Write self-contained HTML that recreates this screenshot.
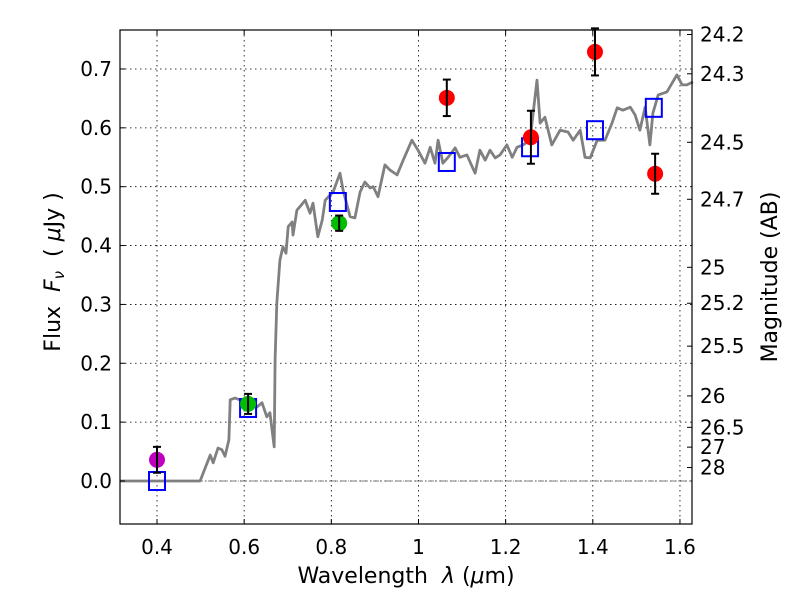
<!DOCTYPE html>
<html><head><meta charset="utf-8">
<style>
body{margin:0;background:#fff;}
svg{display:block;font-family:"DejaVu Sans","Liberation Sans",sans-serif;}
.pre{white-space:pre;}
</style></head>
<body>
<svg id="chart" width="800" height="600" viewBox="0 0 800 600" xmlns="http://www.w3.org/2000/svg">
<rect width="800" height="600" fill="#fff"/>
<g id="grid"></g>
<g id="series"></g>
<rect x="120" y="30" width="572" height="494" fill="none" stroke="#000" stroke-width="1.2"/>
<g id="axes"></g>
<text class="pre" x="406" y="583" font-size="22" text-anchor="middle">Wavelength  <tspan font-style="italic">λ</tspan> (<tspan font-style="italic">μ</tspan>m)</text>
<text class="pre" transform="translate(60,272) rotate(-90)" font-size="22" text-anchor="middle">Flux  <tspan font-style="italic">F<tspan font-size="15" dy="4">ν</tspan></tspan><tspan dy="-4">  ( </tspan><tspan font-style="italic">μ</tspan>Jy )</text>
<text class="pre" transform="translate(777,277) rotate(-90)" font-size="22" text-anchor="middle">Magnitude (AB)</text>
</svg>
<script>
const xTicks=[0.4,0.6,0.8,1.0,1.2,1.4,1.6];
const xTickLabels=["0.4","0.6","0.8","1","1.2","1.4","1.6"];
const yTicks=[0,0.1,0.2,0.3,0.4,0.5,0.6,0.7];
const yTickLabels=["0.0","0.1","0.2","0.3","0.4","0.5","0.6","0.7"];
const magTicks=[24.2,24.3,24.5,24.7,25,25.2,25.5,26,26.5,27,28];
const magTickLabels=["24.2","24.3","24.5","24.7","25","25.2","25.5","26","26.5","27","28"];
const specWave=[0.315,0.499,0.522,0.529,0.540,0.549,0.556,0.565,0.568,0.579,0.607,0.630,0.641,0.652,0.659,0.669,0.671,0.675,0.682,0.689,0.696,0.701,0.710,0.712,0.721,0.728,0.740,0.751,0.758,0.769,0.779,0.786,0.804,0.820,0.827,0.843,0.854,0.866,0.877,0.889,0.896,0.907,0.923,0.935,0.951,0.965,0.985,0.999,1.015,1.027,1.038,1.045,1.056,1.068,1.084,1.095,1.111,1.130,1.141,1.153,1.164,1.176,1.187,1.203,1.215,1.226,1.240,1.256,1.272,1.279,1.290,1.306,1.325,1.343,1.355,1.371,1.382,1.394,1.410,1.428,1.444,1.456,1.469,1.486,1.497,1.508,1.520,1.531,1.538,1.550,1.570,1.593,1.605,1.616,1.630];
const specFlux=[0,0,0.044,0.031,0.056,0.053,0.042,0.070,0.138,0.141,0.133,0.126,0.133,0.109,0.116,0.058,0.206,0.302,0.375,0.398,0.387,0.432,0.440,0.418,0.460,0.466,0.477,0.455,0.472,0.415,0.443,0.477,0.491,0.523,0.494,0.449,0.447,0.491,0.508,0.498,0.500,0.483,0.537,0.528,0.520,0.545,0.579,0.562,0.540,0.567,0.540,0.579,0.540,0.550,0.566,0.550,0.554,0.523,0.562,0.545,0.562,0.549,0.554,0.571,0.550,0.567,0.571,0.579,0.681,0.608,0.618,0.571,0.596,0.593,0.579,0.596,0.550,0.549,0.579,0.579,0.608,0.634,0.630,0.635,0.622,0.596,0.635,0.571,0.625,0.656,0.661,0.690,0.673,0.673,0.678];
const modelWave=[0.4,0.609,0.815,1.065,1.256,1.405,1.540];
const modelFlux=[0,0.124,0.474,0.542,0.567,0.596,0.634];
const obsWave=[0.4,0.609,0.818,1.065,1.258,1.405,1.543];
const obsFlux=[0.036,0.131,0.438,0.651,0.584,0.729,0.522];
const obsErr=[0.022,0.017,0.013,0.031,0.045,0.04,0.034];
const obsColor=["#bf00bf","#00bf00","#00bf00","#ff0000","#ff0000","#ff0000","#ff0000"];

const L=120,R=692,T=30,B=524;
const X=v=>157+(v-0.4)*435.8;
const Y=v=>481-v*588.6;
const magToFlux=m=>Math.pow(10,-0.4*(m-23.9));
const NS="http://www.w3.org/2000/svg";
function mk(p,tag,a){const e=document.createElementNS(NS,tag);for(const k in a)e.setAttribute(k,a[k]);p.appendChild(e);return e;}
const grid=document.getElementById('grid'),axes=document.getElementById('axes'),ser=document.getElementById('series');

xTicks.forEach((v,i)=>{
 const x=X(v);
 const g=mk(grid,'line',{x1:x,x2:x,y1:T,y2:B,stroke:'#000','stroke-width':0.8,'stroke-dasharray':'1.5,3.5'});
 
 
 mk(axes,'line',{x1:x,x2:x,y1:B,y2:B-5,stroke:'#000'});
 mk(axes,'line',{x1:x,x2:x,y1:T,y2:T+5,stroke:'#000'});
 const t=mk(axes,'text',{x:x,y:554,'font-size':20,'text-anchor':'middle'});
 t.textContent=xTickLabels[i];
 
 
});
yTicks.forEach((v,i)=>{
 const y=Y(v);
 const g=mk(grid,'line',{x1:L,x2:R,y1:y,y2:y,stroke:'#000','stroke-width':0.8,'stroke-dasharray':'1.5,3.5'});
 
 
 mk(axes,'line',{x1:L,x2:L+5,y1:y,y2:y,stroke:'#000'});
 const t=mk(axes,'text',{x:112,y:y+7,'font-size':20,'text-anchor':'end'});
 t.textContent=yTickLabels[i];
 
 
});
magTicks.forEach((m,i)=>{
 const y=Y(magToFlux(m));
 mk(axes,'line',{x1:R,x2:R-5,y1:y,y2:y,stroke:'#000'});
 const t=mk(axes,'text',{x:700,y:y+7,'font-size':20,'text-anchor':'start'});
 t.textContent=magTickLabels[i];
 
 
});
const zl=mk(ser,'line',{x1:L,x2:R,y1:Y(0),y2:Y(0),stroke:'#555','stroke-width':0.8,'stroke-dasharray':'6,2,1,2'});


const pts=specWave.map((w,i)=>X(w).toFixed(1)+','+Y(specFlux[i]).toFixed(1)).join(' ');
const sp=mk(ser,'polyline',{points:pts,fill:'none',stroke:'#808080','stroke-width':2.8,'stroke-linejoin':'round'});


modelWave.forEach((w,i)=>{
 const s=mk(ser,'rect',{x:X(w)-8,y:Y(modelFlux[i])-9,width:16,height:18,fill:'none',stroke:'#0000ff','stroke-width':2});
 
 
});
obsWave.forEach((w,i)=>{
 const x=X(w),y=Y(obsFlux[i]);
 const g=mk(ser,'g',{});
 
 
 mk(g,'circle',{cx:x,cy:y,r:8,fill:obsColor[i]});
 const y1=Y(obsFlux[i]+obsErr[i]),y2=Y(obsFlux[i]-obsErr[i]);
 mk(g,'line',{x1:x,x2:x,y1:y1,y2:y2,stroke:'#000','stroke-width':2});
 mk(g,'line',{x1:x-4,x2:x+4,y1:y1,y2:y1,stroke:'#000','stroke-width':2});
 mk(g,'line',{x1:x-4,x2:x+4,y1:y2,y2:y2,stroke:'#000','stroke-width':2});
});
</script>
</body></html>
